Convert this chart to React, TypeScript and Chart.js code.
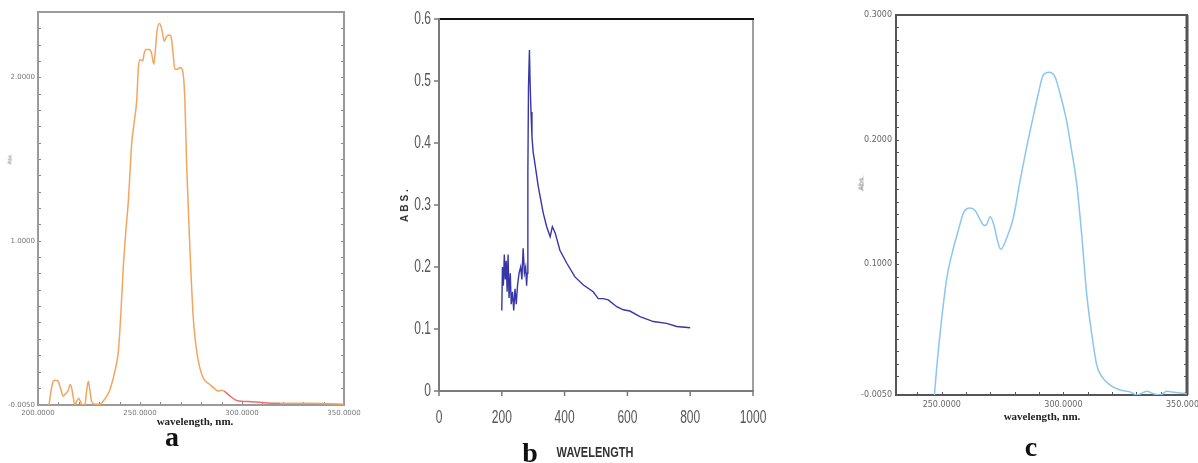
import React, { useEffect, useRef } from 'react';
import { Chart, registerables } from 'chart.js';
Chart.register(...registerables);

// ---------- Panel a (orange spectrum) ----------
const A_WL = [205.4, 206.5, 207.5, 208.3, 209.2, 209.9, 211, 212.4, 213.2, 214, 215, 215.7, 216.5, 217.3, 218, 219, 220, 221, 221.5, 223, 223.8, 224.7, 225.5, 226.3, 228, 230.4, 232, 233.7, 235.3, 236.9, 238.2, 239.4, 240.6, 241.8, 243, 244.3, 245.1, 245.9, 247.2, 248.4, 249.2, 250, 251.3, 252.1, 252.9, 253.8, 254.6, 255.6, 256.8, 257.5, 258.2, 259.5, 260.6, 261.9, 263, 264.4, 265.2, 266.2, 267.1, 268.3, 269.6, 270.9, 272, 272.9, 274.5, 276.1, 277.3, 278.6, 281, 284.3, 286.5, 288.4, 290, 291.2, 294.1, 297.4, 304.6, 318.6, 332, 350];
const A_ABS = [-0.005, 0.09, 0.141, 0.147, 0.145, 0.14, 0.1, 0.049, 0.06, 0.07, 0.09, 0.12, 0.10, 0.04, -0.005, 0.02, 0.035, 0.01, -0.005, -0.005, 0.08, 0.14, 0.08, 0.015, 0.0, 0.0, 0.02, 0.05, 0.09, 0.16, 0.23, 0.325, 0.55, 0.836, 1.05, 1.245, 1.42, 1.59, 1.73, 1.86, 2.06, 2.11, 2.10, 2.15, 2.17, 2.17, 2.17, 2.15, 2.08, 2.16, 2.27, 2.33, 2.30, 2.22, 2.25, 2.26, 2.25, 2.15, 2.05, 2.05, 2.06, 2.04, 1.86, 1.45, 0.94, 0.53, 0.37, 0.264, 0.16, 0.12, 0.095, 0.08, 0.085, 0.08, 0.05, 0.023, 0.015, 0.005, 0.005, 0.0];
const A_X_LABELS = [200, 250, 300, 350];
const A_Y_LABELS = [-0.005, 1, 2];

// ---------- Panel b (blue spectrum) ----------
const B_WL = [200, 202, 205, 208, 211, 214, 217, 220, 223, 227, 230, 234, 238, 242, 246, 250, 255, 260, 264, 268, 272, 276, 279, 281, 283, 285, 288, 290, 293, 296, 300, 304, 316, 332, 343, 354, 361, 370, 385, 407, 433, 460, 491, 507, 523, 539, 566, 587, 608, 640, 683, 725, 757, 800];
const B_ABS = [0.13, 0.20, 0.17, 0.22, 0.18, 0.21, 0.16, 0.22, 0.15, 0.19, 0.14, 0.16, 0.13, 0.165, 0.14, 0.17, 0.19, 0.20, 0.18, 0.23, 0.19, 0.20, 0.17, 0.19, 0.35, 0.49, 0.55, 0.50, 0.45, 0.41, 0.385, 0.372, 0.33, 0.287, 0.265, 0.249, 0.265, 0.255, 0.227, 0.206, 0.184, 0.171, 0.160, 0.149, 0.149, 0.147, 0.136, 0.131, 0.129, 0.12, 0.112, 0.109, 0.104, 0.102];
const B_X_TICKS = [0, 200, 400, 600, 800, 1000];
const B_Y_TICKS = [0, 0.1, 0.2, 0.3, 0.4, 0.5, 0.6];

// ---------- Panel c (light-blue spectrum) ----------
const C_WL = [246.8, 247.9, 250, 252.1, 254.8, 256.8, 258.9, 261.6, 263.7, 265.7, 267.4, 268.5, 269.9, 271.5, 272.9, 274.2, 276.7, 279.4, 282.2, 284.9, 287, 289.7, 291.8, 294.2, 296.6, 298.6, 301.1, 303.4, 305.5, 307.5, 309.6, 311.7, 313.7, 315.8, 319.2, 323.3, 327.4, 330.2, 334.3, 337, 339.8, 342.5, 346, 350.7];
const C_ABS = [-0.01, 0.0164, 0.0567, 0.089, 0.113, 0.127, 0.141, 0.145, 0.143, 0.136, 0.131, 0.132, 0.138, 0.131, 0.119, 0.112, 0.121, 0.137, 0.167, 0.194, 0.213, 0.237, 0.252, 0.254, 0.250, 0.237, 0.217, 0.191, 0.164, 0.124, 0.0756, 0.0433, 0.0191, 0.0097, 0.003, -0.001, -0.0025, -0.005, -0.002, -0.004, -0.005, -0.002, -0.003, -0.004];
const C_X_LABELS = [250, 300, 350];
const C_Y_LABELS = [-0.005, 0.1, 0.2, 0.3];

function steps(from: number, to: number, step: number): number[] {
  const out: number[] = [];
  const n = Math.round((to - from) / step);
  for (let i = 0; i <= n; i++) out.push(Math.round((from + i * step) * 1e6) / 1e6);
  return out;
}

const A_X_TICKS = steps(200, 350, 10);
const A_Y_TICKS = [-0.005, ...steps(0.1, 2.4, 0.1)];
const C_X_TICKS = steps(240, 350, 10);
const C_Y_TICKS = [-0.005, ...steps(0.01, 0.3, 0.01)];

const SMALL_FONT = { family: 'DejaVu Sans', size: 7 };

function framePlugin(o: any) {
  return {
    id: 'frame' + o.id,
    beforeDatasetsDraw(chart: any) {
      const { ctx, chartArea: a } = chart;
      const xs = chart.scales.x, ys = chart.scales.y;
      ctx.save();
      ctx.strokeStyle = o.tickColor;
      ctx.lineWidth = 1;
      ctx.beginPath();
      ys.ticks.forEach((t: any) => {
        const p = Math.round(ys.getPixelForValue(t.value)) + 0.5;
        ctx.moveTo(a.left, p); ctx.lineTo(a.left + o.len, p);
        ctx.moveTo(a.right, p); ctx.lineTo(a.right - o.len, p);
      });
      xs.ticks.forEach((t: any) => {
        const p = Math.round(xs.getPixelForValue(t.value)) + 0.5;
        ctx.moveTo(p, a.bottom); ctx.lineTo(p, a.bottom - o.len);
      });
      ctx.stroke();
      ctx.strokeStyle = o.color;
      ctx.lineWidth = o.width;
      ctx.strokeRect(a.left, a.top, a.right - a.left, a.bottom - a.top);
      if (o.rightWidth) {
        ctx.lineWidth = o.rightWidth;
        ctx.beginPath(); ctx.moveTo(a.right, a.top); ctx.lineTo(a.right, a.bottom); ctx.stroke();
      }
      ctx.restore();
    },
  };
}

function fitX(h: number) {
  return (s: any) => { s.height = h; s.paddingLeft = 0; s.paddingRight = 0; };
}
function fitY(w: number) {
  return (s: any) => { s.width = w; s.paddingTop = 0; s.paddingBottom = 0; };
}
function setTicks(vals: number[]) {
  return (s: any) => { s.ticks = vals.map((v) => ({ value: v })); };
}

function cfgA(): any {
  return {
    type: 'line',
    data: {
      datasets: [{
        data: A_WL.map((x, i) => ({ x, y: A_ABS[i] })),
        borderColor: '#f3a55f',
        borderWidth: 1.5,
        pointRadius: 0,
        cubicInterpolationMode: 'monotone',
        segment: {
          borderColor: (c: any) => (c.p0.parsed.x >= 291 && c.p1.parsed.x <= 319 ? '#ee6d6d' : undefined),
        },
      }],
    },
    options: {
      responsive: false, animation: false, events: [],
      layout: { padding: { left: 0, top: 12, right: 51, bottom: 0 } },
      plugins: { legend: { display: false }, tooltip: { enabled: false } },
      scales: {
        x: {
          type: 'linear', min: 200, max: 350,
          grid: { display: false, drawTicks: false }, border: { display: false },
          afterBuildTicks: setTicks(A_X_TICKS), afterFit: fitX(58),
          ticks: {
            autoSkip: false, maxRotation: 0, minRotation: 0, padding: 4, color: '#777', font: SMALL_FONT,
            callback: (v: any) => (A_X_LABELS.includes(v) ? Number(v).toFixed(4) : ''),
          },
        },
        y: {
          type: 'linear', min: -0.005, max: 2.4,
          grid: { display: false, drawTicks: false }, border: { display: false },
          afterBuildTicks: setTicks(A_Y_TICKS), afterFit: fitY(38),
          ticks: {
            autoSkip: false, padding: 3, color: '#777', font: SMALL_FONT,
            callback: (v: any) => (A_Y_LABELS.includes(v) ? Number(v).toFixed(4) : ''),
          },
        },
      },
    },
    plugins: [framePlugin({ id: 'a', color: '#9a9a9a', width: 2, tickColor: '#888', len: 3 })],
  };
}

const bAxesPlugin = {
  id: 'bAxes',
  beforeDatasetsDraw(chart: any) {
    const { ctx, chartArea: a } = chart;
    const xs = chart.scales.x, ys = chart.scales.y;
    const line = (x1: number, y1: number, x2: number, y2: number) => {
      ctx.beginPath(); ctx.moveTo(x1, y1); ctx.lineTo(x2, y2); ctx.stroke();
    };
    ctx.save();
    ctx.lineWidth = 2;
    ctx.strokeStyle = '#a0a0a0';
    line(a.right, a.top, a.right, a.bottom);
    ctx.strokeStyle = '#111';
    line(a.left, a.top, a.right + 1, a.top);
    ctx.strokeStyle = '#7a7a7a';
    line(a.left, a.top - 1, a.left, a.bottom + 1);
    line(a.left - 1, a.bottom, a.right + 1, a.bottom);
    ctx.lineWidth = 1.5;
    ys.ticks.forEach((t: any) => {
      const p = ys.getPixelForValue(t.value);
      line(a.left - 5, p, a.left, p);
    });
    xs.ticks.forEach((t: any) => {
      const p = xs.getPixelForValue(t.value);
      line(p, a.bottom, p, a.bottom + 5);
    });
    ctx.fillStyle = '#555';
    ctx.font = '12px "Liberation Sans Narrow", "Arial Narrow", "Liberation Sans", sans-serif';
    ctx.textBaseline = 'middle';
    ctx.textAlign = 'right';
    ys.ticks.forEach((t: any) => {
      const p = ys.getPixelForValue(t.value);
      ctx.save(); ctx.translate(a.left - 8, p); ctx.scale(1, 1.5);
      ctx.fillText(String(Math.round(t.value * 10) / 10), 0, 0);
      ctx.restore();
    });
    ctx.textAlign = 'center';
    xs.ticks.forEach((t: any) => {
      const p = xs.getPixelForValue(t.value);
      ctx.save(); ctx.translate(p, a.bottom + 27); ctx.scale(1, 1.5);
      ctx.fillText(String(Math.round(t.value)), 0, 0);
      ctx.restore();
    });
    ctx.restore();
  },
};

function cfgB(): any {
  return {
    type: 'line',
    data: {
      datasets: [{
        data: B_WL.map((x, i) => ({ x, y: B_ABS[i] })),
        borderColor: '#3636a6',
        borderWidth: 1.4,
        pointRadius: 0,
        tension: 0,
      }],
    },
    options: {
      responsive: false, animation: false, events: [],
      layout: { padding: { left: 0, top: 19, right: 47, bottom: 0 } },
      plugins: { legend: { display: false }, tooltip: { enabled: false } },
      scales: {
        x: {
          type: 'linear', min: 0, max: 1000,
          grid: { display: false, drawTicks: false }, border: { display: false },
          afterBuildTicks: setTicks(B_X_TICKS), afterFit: fitX(72),
          ticks: { display: false },
        },
        y: {
          type: 'linear', min: 0, max: 0.6,
          grid: { display: false, drawTicks: false }, border: { display: false },
          afterBuildTicks: setTicks(B_Y_TICKS), afterFit: fitY(44),
          ticks: { display: false },
        },
      },
    },
    plugins: [bAxesPlugin],
  };
}

function cfgC(): any {
  return {
    type: 'line',
    data: {
      datasets: [{
        data: C_WL.map((x, i) => ({ x, y: C_ABS[i] })),
        borderColor: '#8cc6ee',
        borderWidth: 1.5,
        pointRadius: 0,
        cubicInterpolationMode: 'monotone',
      }],
    },
    options: {
      responsive: false, animation: false, events: [],
      layout: { padding: { left: 0, top: 15, right: 11, bottom: 0 } },
      plugins: { legend: { display: false }, tooltip: { enabled: false } },
      scales: {
        x: {
          type: 'linear', min: 231.2, max: 350.8,
          grid: { display: false, drawTicks: false }, border: { display: false },
          afterBuildTicks: setTicks(C_X_TICKS), afterFit: fitX(68),
          ticks: {
            autoSkip: false, maxRotation: 0, minRotation: 0, padding: 5, color: '#666', font: { family: 'DejaVu Sans', size: 8 },
            callback: (v: any) => (C_X_LABELS.includes(v) ? Number(v).toFixed(4) : ''),
          },
        },
        y: {
          type: 'linear', min: -0.005, max: 0.3,
          grid: { display: false, drawTicks: false }, border: { display: false },
          afterBuildTicks: setTicks(C_Y_TICKS), afterFit: fitY(56),
          ticks: {
            autoSkip: false, padding: 4, color: '#666', font: { family: 'DejaVu Sans', size: 8 },
            callback: (v: any) => (C_Y_LABELS.includes(v) ? Number(v).toFixed(4) : ''),
          },
        },
      },
    },
    plugins: [framePlugin({ id: 'c', color: '#555', width: 2, rightWidth: 3, tickColor: '#555', len: 3 })],
  };
}

function Panel({ left, width, make }: { left: number; width: number; make: () => any }) {
  const ref = useRef<HTMLCanvasElement | null>(null);
  useEffect(() => {
    if (!ref.current) return;
    const chart = new Chart(ref.current, make());
    return () => chart.destroy();
  }, []);
  return (
    <div style={{ position: 'absolute', left, top: 0, width, height: 463 }}>
      <canvas ref={ref} width={width} height={463} style={{ display: 'block' }} />
    </div>
  );
}

function Txt({ x, y, rotate, style, children }: any) {
  return (
    <div
      style={{
        position: 'absolute', left: x, top: y, whiteSpace: 'nowrap', lineHeight: 1,
        transform: `translate(-50%, -50%)${rotate ? ' rotate(-90deg)' : ''}${style && style.extra ? ' ' + style.extra : ''}`,
        ...style,
      }}
    >
      {children}
    </div>
  );
}

const serifBold = { fontFamily: '"Liberation Serif", serif', fontWeight: 700 };

export default function App() {
  return (
    <div style={{ position: 'absolute', left: 0, top: 0, width: 1198, height: 463, background: '#fff', overflow: 'hidden' }}>
      <Panel left={0} width={395} make={cfgA} />
      <Panel left={395} width={405} make={cfgB} />
      <Panel left={840} width={358} make={cfgC} />

      {/* panel a texts */}
      <Txt x={10} y={159} rotate style={{ fontFamily: 'DejaVu Sans', fontSize: 5, color: '#666' }}>Abs.</Txt>
      <Txt x={195} y={421} style={{ ...serifBold, fontSize: 11, color: '#222' }}>wavelength, nm.</Txt>
      <Txt x={172} y={437} style={{ ...serifBold, fontSize: 28, color: '#111' }}>a</Txt>

      {/* panel b texts */}
      <Txt x={405} y={204} rotate style={{ fontFamily: '"Liberation Sans", sans-serif', fontWeight: 700, fontSize: 10, letterSpacing: 3, color: '#333' }}>ABS.</Txt>
      <Txt x={595} y={452} style={{ fontFamily: '"Liberation Sans Narrow", "Liberation Sans", sans-serif', fontWeight: 700, fontSize: 11, color: '#333', extra: 'scaleY(1.35)' }}>WAVELENGTH</Txt>
      <Txt x={530} y={453} style={{ ...serifBold, fontSize: 28, color: '#111' }}>b</Txt>

      {/* panel c texts */}
      <Txt x={862} y={183} rotate style={{ fontFamily: 'DejaVu Sans', fontSize: 7, color: '#666' }}>Abs.</Txt>
      <Txt x={1042} y={416} style={{ ...serifBold, fontSize: 11, color: '#222' }}>wavelength, nm.</Txt>
      <Txt x={1031} y={447} style={{ ...serifBold, fontSize: 28, color: '#111' }}>c</Txt>
    </div>
  );
}
